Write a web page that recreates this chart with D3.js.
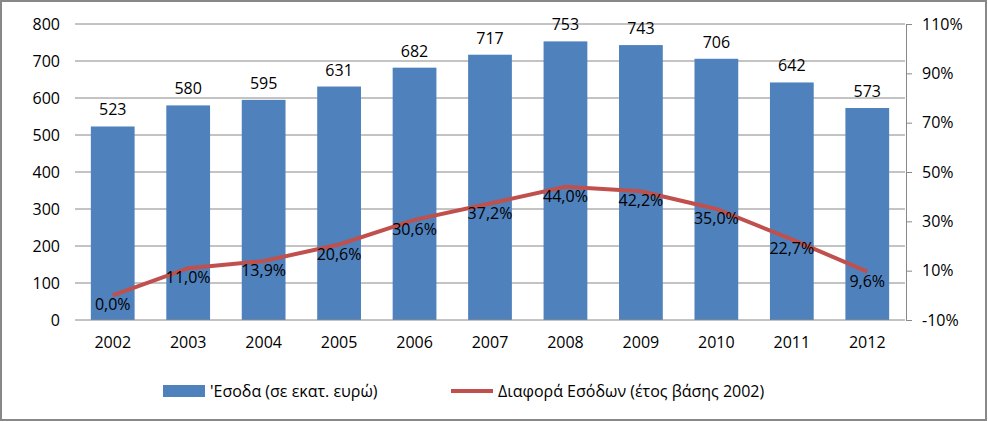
<!DOCTYPE html>
<html><head><meta charset="utf-8">
<script src="https://cdn.jsdelivr.net/npm/d3@7"></script>
<style>body{margin:0;background:#fff}text{font-family:"Open Sans","DejaVu Sans",sans-serif}</style>
</head><body><div id="graph"></div>
<script>
var annees = ["2002","2003","2004","2005","2006","2007","2008","2009","2010","2011","2012"];
var esoda = [523,580,595,631,682,717,753,743,706,642,573];
var diafora = [0.0,11.0,13.9,20.6,30.6,37.2,44.0,42.2,35.0,22.7,9.6];
var ticksGauche = [0,100,200,300,400,500,600,700,800];
var ticksDroite = [-10,10,30,50,70,90,110];

var W = 988, H = 422,
    svg = d3.select("#graph").append("svg").attr("width", W).attr("height", H);
svg.append("rect").attr("x",1).attr("y",1).attr("width",W-3).attr("height",H-3)
    .attr("fill","#fff").attr("stroke","#888").attr("stroke-width",2);

var x = d3.scaleBand().domain(annees).range([75, 905]).paddingInner(0.42).paddingOuter(0.21),
    y = d3.scaleLinear().domain([0, 800]).range([320, 24]),
    y2 = d3.scaleLinear().domain([-10, 110]).range([320, 24]);

svg.selectAll(".grille").data(ticksGauche.slice(1)).enter().append("line")
    .attr("x1", 75).attr("x2", 905)
    .attr("y1", function (d) { return y(d); }).attr("y2", function (d) { return y(d); })
    .attr("stroke", "#888").attr("stroke-width", 1);

svg.selectAll(".barre").data(esoda).enter().append("rect")
    .attr("x", function (d, i) { return x(annees[i]); })
    .attr("width", x.bandwidth())
    .attr("y", function (d) { return y(d); })
    .attr("height", function (d) { return y(0) - y(d); })
    .attr("fill", "#4f81bd");

svg.selectAll(".lbar").data(esoda).enter().append("text")
    .attr("x", function (d, i) { return x(annees[i]) + x.bandwidth() / 2; })
    .attr("y", function (d) { return y(d) - 11; })
    .attr("text-anchor", "middle").attr("font-size", 16).attr("fill", "#000")
    .text(function (d) { return d; });

var gx = svg.append("g").attr("transform", "translate(0,320)")
    .call(d3.axisBottom(x).tickSize(0).tickPadding(17));
gx.select(".domain").attr("stroke", "#888").attr("d", "M75,0H905");
gx.selectAll("text").attr("font-size", 16).attr("font-family", "Open Sans");

var gy = svg.append("g").attr("transform", "translate(68,0)")
    .call(d3.axisLeft(y).tickValues(ticksGauche).tickSize(0).tickPadding(8));
gy.select(".domain").remove();
gy.selectAll("text").attr("font-size", 16).attr("font-family", "Open Sans");

var gy2 = svg.append("g").attr("transform", "translate(906,0)")
    .call(d3.axisRight(y2).tickValues(ticksDroite).tickSizeOuter(0).tickSize(6).tickPadding(10)
        .tickFormat(function (d) { return d + "%"; }));
gy2.select(".domain").attr("stroke", "#888");
gy2.selectAll("line").attr("stroke", "#888");
gy2.selectAll("text").attr("font-size", 16).attr("font-family", "Open Sans");

svg.append("path").datum(diafora)
    .attr("fill", "none").attr("stroke", "#c0504d").attr("stroke-width", 4)
    .attr("d", d3.line()
        .x(function (d, i) { return x(annees[i]) + x.bandwidth() / 2; })
        .y(function (d) { return y2(d); }));

svg.selectAll(".lligne").data(diafora).enter().append("text")
    .attr("x", function (d, i) { return x(annees[i]) + x.bandwidth() / 2; })
    .attr("y", function (d) { return y2(d) + 15; })
    .attr("text-anchor", "middle").attr("font-size", 16).attr("fill", "#000")
    .text(function (d) { return d.toFixed(1).replace(".", ",") + "%"; });

var leg = svg.append("g").attr("font-size", 16);
leg.append("rect").attr("x", 163).attr("y", 385).attr("width", 42).attr("height", 12).attr("fill", "#4f81bd");
leg.append("text").attr("x", 210).attr("y", 397).text("'Εσοδα (σε εκατ. ευρώ)");
leg.append("line").attr("x1", 451).attr("x2", 493).attr("y1", 391).attr("y2", 391)
    .attr("stroke", "#c0504d").attr("stroke-width", 4);
leg.append("text").attr("x", 498).attr("y", 397).text("Διαφορά Εσόδων (έτος βάσης 2002)");
</script></body></html>
